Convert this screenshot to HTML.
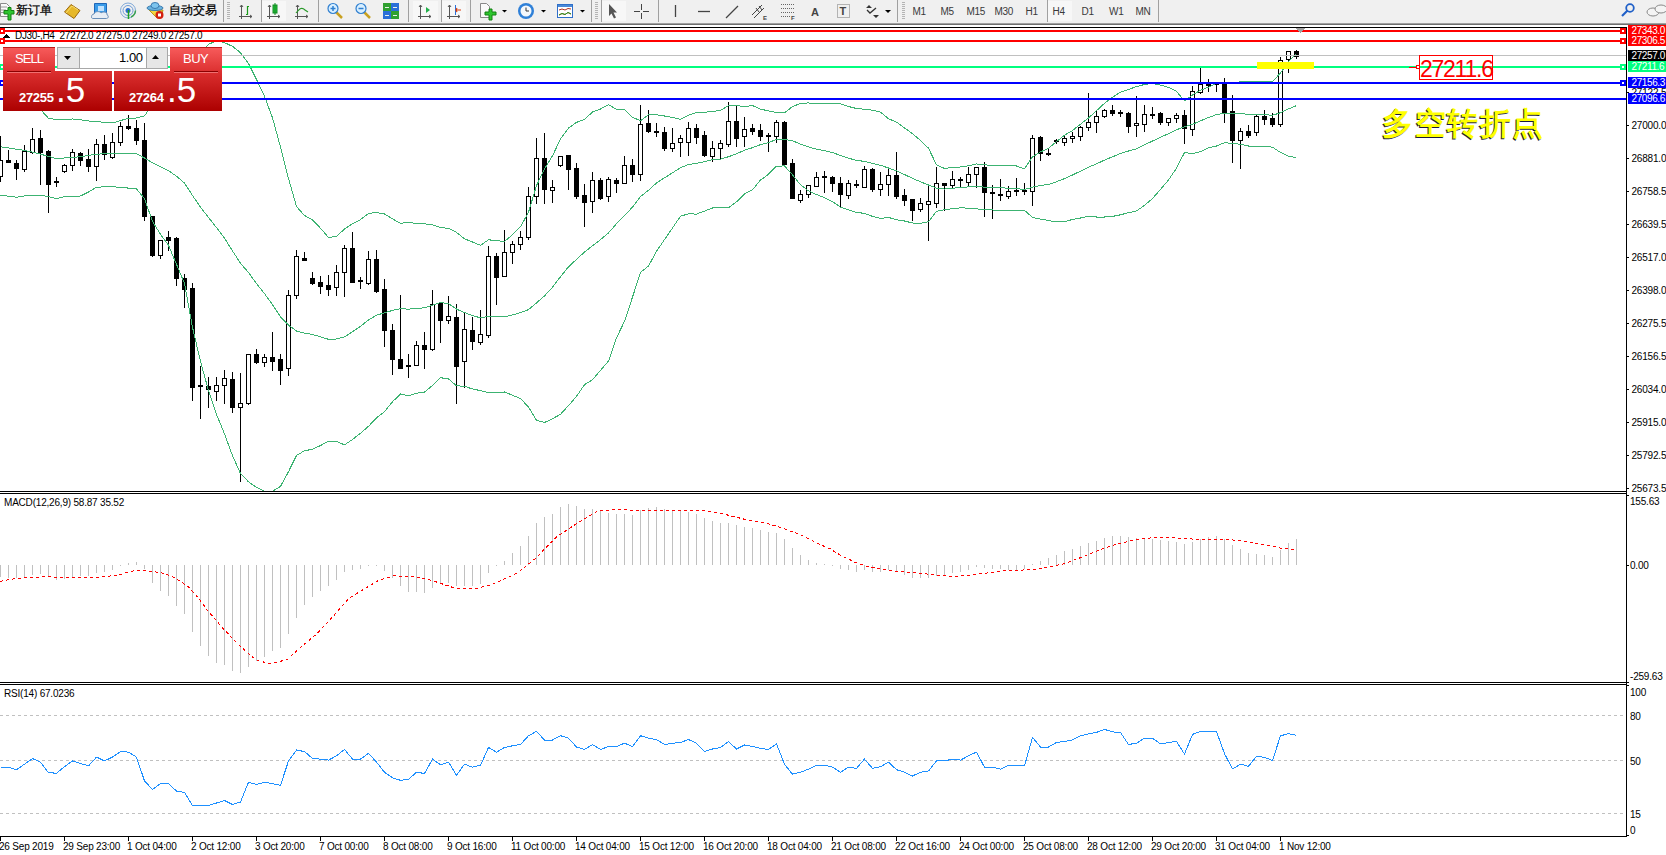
<!DOCTYPE html>
<html><head><meta charset="utf-8"><style>
html,body{margin:0;padding:0;}
body{width:1666px;height:855px;overflow:hidden;position:relative;background:#fff;font-family:'Liberation Sans', sans-serif;}
</style></head><body>

<div style="position:absolute;left:0;top:0;width:1666px;height:23px;background:#f0f0f0"></div>
<svg width="1666" height="23" style="position:absolute;left:0;top:0"><rect x="223" y="0" width="1" height="22" fill="#a0a0a0"/><rect x="261" y="0" width="1" height="22" fill="#a0a0a0"/><rect x="318" y="0" width="1" height="22" fill="#a0a0a0"/><rect x="408" y="0" width="1" height="22" fill="#a0a0a0"/><rect x="441" y="0" width="1" height="22" fill="#a0a0a0"/><rect x="470" y="0" width="1" height="22" fill="#a0a0a0"/><rect x="591" y="0" width="1" height="22" fill="#a0a0a0"/><rect x="601" y="0" width="1" height="22" fill="#a0a0a0"/><rect x="658" y="0" width="1" height="22" fill="#a0a0a0"/><rect x="897" y="0" width="1" height="22" fill="#a0a0a0"/><rect x="1047" y="0" width="1" height="22" fill="#a0a0a0"/><rect x="1158" y="0" width="1" height="22" fill="#a0a0a0"/><rect x="227" y="2" width="3" height="1" fill="#b4b4b4"/><rect x="227" y="4" width="3" height="1" fill="#b4b4b4"/><rect x="227" y="6" width="3" height="1" fill="#b4b4b4"/><rect x="227" y="8" width="3" height="1" fill="#b4b4b4"/><rect x="227" y="10" width="3" height="1" fill="#b4b4b4"/><rect x="227" y="12" width="3" height="1" fill="#b4b4b4"/><rect x="227" y="14" width="3" height="1" fill="#b4b4b4"/><rect x="227" y="16" width="3" height="1" fill="#b4b4b4"/><rect x="227" y="18" width="3" height="1" fill="#b4b4b4"/><rect x="595" y="2" width="3" height="1" fill="#b4b4b4"/><rect x="595" y="4" width="3" height="1" fill="#b4b4b4"/><rect x="595" y="6" width="3" height="1" fill="#b4b4b4"/><rect x="595" y="8" width="3" height="1" fill="#b4b4b4"/><rect x="595" y="10" width="3" height="1" fill="#b4b4b4"/><rect x="595" y="12" width="3" height="1" fill="#b4b4b4"/><rect x="595" y="14" width="3" height="1" fill="#b4b4b4"/><rect x="595" y="16" width="3" height="1" fill="#b4b4b4"/><rect x="595" y="18" width="3" height="1" fill="#b4b4b4"/><rect x="902" y="2" width="3" height="1" fill="#b4b4b4"/><rect x="902" y="4" width="3" height="1" fill="#b4b4b4"/><rect x="902" y="6" width="3" height="1" fill="#b4b4b4"/><rect x="902" y="8" width="3" height="1" fill="#b4b4b4"/><rect x="902" y="10" width="3" height="1" fill="#b4b4b4"/><rect x="902" y="12" width="3" height="1" fill="#b4b4b4"/><rect x="902" y="14" width="3" height="1" fill="#b4b4b4"/><rect x="902" y="16" width="3" height="1" fill="#b4b4b4"/><rect x="902" y="18" width="3" height="1" fill="#b4b4b4"/><rect x="262" y="1" width="24" height="20" fill="#f7f7f7"/><rect x="413" y="1" width="25" height="20" fill="#f7f7f7"/><rect x="442" y="1" width="24" height="20" fill="#f7f7f7"/><rect x="602" y="1" width="24" height="20" fill="#f7f7f7"/><rect x="1048" y="1" width="24" height="20" fill="#f7f7f7"/><path d="M0.5 3.5H6.5L9.5 6.5V16.5H0.5Z" fill="#fafafa" stroke="#8a8a8a"/><path d="M1 7H7M1 10H6M1 12.5H6" stroke="#9a9a9a"/><path d="M4 10.5H8V7.5H11V10.5H14V14H11V20H8V14H4Z" fill="#2ec52e" stroke="#138013"/><text x="16" y="14" style="font-family:'Liberation Sans', sans-serif;font-size:12px;fill:#000;stroke:#000;stroke-width:0.25">新订单</text><path d="M64.5 12L71 4.5L80 10.5L74 18.5Z" fill="#e6b82a" stroke="#9c6a10"/><path d="M66 13L72 6L78 10" fill="none" stroke="#f7dc70"/><path d="M94.5 3.5H106.5V13H94.5Z" fill="#3a9be8" stroke="#1f67b8"/><rect x="98" y="6" width="6" height="5" fill="#bfe2ff"/><path d="M92.5 18.5C91 18.5 91 14 94 14C95 11 100 11 101 13C103 11 108 12 107 15C109 15.5 108.5 18.5 106.5 18.5Z" fill="#e8eef5" stroke="#6a8fb8"/><circle cx="128" cy="10.5" r="7.5" fill="none" stroke="#7fa8d8" stroke-width="1"/><circle cx="128" cy="10.5" r="5" fill="none" stroke="#6b9ad6" stroke-width="1"/><circle cx="128" cy="10.5" r="2.5" fill="#2d6fcf"/><path d="M128.5 10V19" stroke="#20a020" stroke-width="1.5"/><path d="M131 17A7.5 7.5 0 0 0 135.5 10.5" fill="none" stroke="#3aa050" stroke-width="1.5"/><path d="M149 10L157 18H161L163 10Z" fill="#f2d640" stroke="#b89818"/><ellipse cx="155" cy="8" rx="8" ry="2.5" fill="#6ab4e0" stroke="#3a7ab0"/><ellipse cx="155" cy="5.5" rx="4" ry="3" fill="#7cc4ee" stroke="#3a7ab0"/><circle cx="159.5" cy="15" r="4" fill="#d42010"/><rect x="158" y="13.5" width="3" height="3" fill="#fff"/><text x="168.5" y="14" style="font-family:'Liberation Sans', sans-serif;font-size:12px;fill:#000;stroke:#000;stroke-width:0.25">自动交易</text><path d="M241.5 5V19M239 16.5H252" stroke="#555" stroke-width="1"/><path d="M240 7L241.5 5L243 7M250 15L252 16.5L250 18" fill="none" stroke="#555"/><path d="M246 14.5H247.5V6.5H249" fill="none" stroke="#1a9a1a" stroke-width="1.2"/><path d="M269.5 5V19M267 16.5H280" stroke="#555" stroke-width="1"/><path d="M268 7L269.5 5L271 7M278 15L280 16.5L278 18" fill="none" stroke="#555"/><rect x="273" y="5" width="4" height="8" fill="#22c43a" stroke="#138a22"/><path d="M275 3V15" stroke="#138a22"/><path d="M297.5 5V19M295 16.5H308" stroke="#555" stroke-width="1"/><path d="M296 7L297.5 5L299 7M306 15L308 16.5L306 18" fill="none" stroke="#555"/><path d="M296 13C300 8 302 7 305 10L308 12" fill="none" stroke="#2a9a2a" stroke-width="1.2"/><path d="M336 12L342 18" stroke="#c8a020" stroke-width="2.5"/><circle cx="333" cy="8.5" r="5" fill="#d8efff" stroke="#2f7fd0" stroke-width="1.2"/><path d="M330.5 8.5H335.5" stroke="#2f7fd0" stroke-width="1.5"/><path d="M333 6V11" stroke="#2f7fd0" stroke-width="1.5"/><path d="M364 12L370 18" stroke="#c8a020" stroke-width="2.5"/><circle cx="361" cy="8.5" r="5" fill="#d8efff" stroke="#2f7fd0" stroke-width="1.2"/><path d="M358.5 8.5H363.5" stroke="#2f7fd0" stroke-width="1.5"/><rect x="383" y="3" width="8" height="8" fill="#30a030"/><rect x="391" y="3" width="8" height="8" fill="#2a6fd8"/><rect x="383" y="11" width="8" height="8" fill="#2a6fd8"/><rect x="391" y="11" width="8" height="8" fill="#30a030"/><path d="M385 7.5H389M393 7.5H397M385 15.5H389M393 15.5H397" stroke="#e8f0e8" stroke-width="1"/><path d="M420.5 5V19M418 16.5H431" stroke="#555" stroke-width="1"/><path d="M419 7L420.5 5L422 7M429 15L431 16.5L429 18" fill="none" stroke="#555"/><path d="M426 7V13L430 10Z" fill="#22b04a"/><path d="M449.5 5V19M447 16.5H460" stroke="#555" stroke-width="1"/><path d="M448 7L449.5 5L451 7M458 15L460 16.5L458 18" fill="none" stroke="#555"/><path d="M455.5 5V15" stroke="#2a6fd8"/><path d="M456 10H461M457 8L456 10L457 12" fill="none" stroke="#d84010" stroke-width="1.2"/><path d="M480.5 3.5H486.5L489.5 6.5V17.5H480.5Z" fill="#fafafa" stroke="#888"/><path d="M485 12H489V9H492V12H496V15H492V20H489V15H485Z" fill="#2ec52e" stroke="#138013"/><path d="M502 10H507L504.5 12.5Z" fill="#000"/><path d="M541 10H546L543.5 12.5Z" fill="#000"/><path d="M580 10H585L582.5 12.5Z" fill="#000"/><circle cx="526" cy="11" r="8" fill="#2f80d8"/><circle cx="526" cy="11" r="5.5" fill="#f4f8fc"/><path d="M526 7.5V11H529" fill="none" stroke="#333"/><rect x="557.5" y="4.5" width="15" height="13" fill="#fff" stroke="#2f6fc8"/><rect x="558" y="5" width="14" height="2" fill="#4a8ad8"/><path d="M559 10L562 9L565 10L568 8.5L571 9M559 15L562 13.5L565 14.5L568 12.5L571 14" fill="none" stroke="#b03020"/><path d="M559 15L562 13.5L565 14.5L568 12.5L571 14" fill="none" stroke="#20a020"/><path d="M609 4V16L611.5 13.5L614 18.5L616 17.5L613.5 12.5H617Z" fill="#555"/><path d="M634 11.5H640M643 11.5H649M641.5 4V10M641.5 13V19" stroke="#444"/><path d="M675.5 5V17" stroke="#444" stroke-width="1.3"/><path d="M698 11.5H710" stroke="#444" stroke-width="1.3"/><path d="M726 18L738 6" stroke="#444" stroke-width="1.2"/><path d="M752 15L762 5M754 18L764 8M756 8L759 12M759 6L762 10" stroke="#444" stroke-width="1"/><text x="763" y="20" style="font-family:'Liberation Sans', sans-serif;font-size:6px;font-weight:bold;fill:#444">E</text><path d="M781 4.5H794M781 8.5H794M781 12.5H794M781 16.5H790" stroke="#666" stroke-dasharray="1 1"/><text x="791" y="20" style="font-family:'Liberation Sans', sans-serif;font-size:6px;font-weight:bold;fill:#444">F</text><text x="811" y="16" style="font-family:'Liberation Sans', sans-serif;font-size:11px;font-weight:bold;fill:#444">A</text><rect x="837.5" y="4.5" width="12" height="13" fill="none" stroke="#777" stroke-dasharray="1 1"/><text x="839.5" y="15" style="font-family:'Liberation Sans', sans-serif;font-size:11px;font-weight:bold;fill:#444">T</text><path d="M866 8L869 5L872 8ZM873 15L876 18L879 15Z" fill="#333"/><path d="M867 10L870 13L876 8" fill="none" stroke="#333" stroke-width="1.3"/><path d="M885 10H891L888 13Z" fill="#000"/><text x="912.5" y="15" style="font-family:'Liberation Sans', sans-serif;font-size:10px;letter-spacing:-0.3px;fill:#3a3a3a">M1</text><text x="940.5" y="15" style="font-family:'Liberation Sans', sans-serif;font-size:10px;letter-spacing:-0.3px;fill:#3a3a3a">M5</text><text x="966.5" y="15" style="font-family:'Liberation Sans', sans-serif;font-size:10px;letter-spacing:-0.3px;fill:#3a3a3a">M15</text><text x="994.5" y="15" style="font-family:'Liberation Sans', sans-serif;font-size:10px;letter-spacing:-0.3px;fill:#3a3a3a">M30</text><text x="1025.5" y="15" style="font-family:'Liberation Sans', sans-serif;font-size:10px;letter-spacing:-0.3px;fill:#3a3a3a">H1</text><text x="1052.5" y="15" style="font-family:'Liberation Sans', sans-serif;font-size:10px;letter-spacing:-0.3px;fill:#3a3a3a">H4</text><text x="1081.5" y="15" style="font-family:'Liberation Sans', sans-serif;font-size:10px;letter-spacing:-0.3px;fill:#3a3a3a">D1</text><text x="1109" y="15" style="font-family:'Liberation Sans', sans-serif;font-size:10px;letter-spacing:-0.3px;fill:#3a3a3a">W1</text><text x="1135.5" y="15" style="font-family:'Liberation Sans', sans-serif;font-size:10px;letter-spacing:-0.3px;fill:#3a3a3a">MN</text><circle cx="1630" cy="8" r="3.8" fill="none" stroke="#2060c8" stroke-width="1.8"/><path d="M1627.5 10.5L1622 16" stroke="#2060c8" stroke-width="2.2"/><ellipse cx="1653" cy="12" rx="6" ry="4" fill="#f4f4f4" stroke="#888"/><ellipse cx="1661" cy="9" rx="6" ry="4" fill="#f4f4f4" stroke="#888"/></svg>
<div style="position:absolute;left:0;top:23px;width:1666px;height:1px;background:#a0a0a0"></div>
<div style="position:absolute;left:0;top:24px;width:1666px;height:1px;background:#6e6e6e"></div>
<div style="position:absolute;left:0;top:25px;width:1666px;height:2px;background:#fff"></div>

<svg width="1666" height="855" style="position:absolute;left:0;top:0" shape-rendering="crispEdges"><path d="M0.5 136V160M0.5 177V182M8.5 150V163M16.5 160V180M24.5 145V151M24.5 170V172M32.5 128V139M32.5 153V154M40.5 130V185M48.5 150V213M56.5 177V187M54 181.5H59M54 182.5H59M64.5 164V165M64.5 172V173M72.5 149V152M72.5 166V171M80.5 152V166M88.5 149V172M96.5 139V144M96.5 167V181M104.5 135V160M112.5 133V142M112.5 158V159M120.5 122V126M120.5 143V146M128.5 115V130M136.5 120V145M144.5 123V221M152.5 216V257M160.5 256V259M168.5 231V251M176.5 237V286M184.5 274V308M192.5 283V401M200.5 366V419M198 385.5H203M198 386.5H203M208.5 377V408M216.5 377V385M216.5 392V401M224.5 370V378M224.5 386V404M232.5 372V413M240.5 373V403M240.5 408V482M248.5 404V405M256.5 349V364M264.5 354V357M264.5 363V367M272.5 332V371M280.5 354V385M288.5 290V295M288.5 369V376M296.5 250V256M296.5 296V299M304.5 252V261M312.5 272V285M320.5 276V294M328.5 275V296M336.5 265V272M336.5 288V296M344.5 245V248M344.5 273V297M352.5 232V283M360.5 277V289M358 280.5H363M358 281.5H363M368.5 251V259M368.5 284V285M376.5 250V293M384.5 279V347M392.5 324V375M400.5 295V369M408.5 354V378M406 365.5H411M406 366.5H411M416.5 341V345M424.5 332V369M432.5 290V304M432.5 350V351M440.5 303V343M448.5 296V316M448.5 321V324M456.5 304V404M464.5 313V329M464.5 362V388M472.5 317V350M480.5 310V334M480.5 343V345M488.5 246V256M488.5 336V338M496.5 253V305M504.5 230V252M512.5 241V244M512.5 253V264M520.5 231V237M520.5 245V250M528.5 187V196M528.5 238V240M536.5 138V158M536.5 197V204M544.5 133V204M552.5 180V187M552.5 191V203M560.5 166V167M568.5 155V190M576.5 163V199M584.5 184V227M592.5 172V180M592.5 202V213M600.5 178V200M608.5 177V179M608.5 197V202M616.5 178V193M624.5 156V165M632.5 159V182M640.5 105V124M640.5 175V181M648.5 110V133M656.5 123V137M654 131.5H659M654 132.5H659M664.5 127V151M672.5 128V143M672.5 149V152M680.5 135V138M680.5 143V157M688.5 122V128M688.5 143V156M696.5 124V144M704.5 131V157M712.5 141V148M712.5 157V162M720.5 140V143M720.5 149V160M728.5 102V121M728.5 145V147M736.5 106V147M744.5 117V129M744.5 137V147M752.5 124V135M760.5 124V141M768.5 133V152M766 135.5H771M766 136.5H771M776.5 120V122M776.5 137V143M784.5 121V165M792.5 159V199M800.5 190V194M800.5 201V203M808.5 195V198M816.5 172V177M824.5 171V193M822 176.5H827M822 177.5H827M832.5 176V192M840.5 177V207M848.5 180V183M848.5 196V199M856.5 180V188M854 184.5H859M854 185.5H859M864.5 166V169M872.5 168V192M880.5 172V184M880.5 190V196M888.5 168V175M888.5 185V196M896.5 152V199M904.5 189V206M912.5 199V221M920.5 198V203M920.5 210V212M928.5 186V201M928.5 205V241M936.5 167V183M936.5 204V208M944.5 183V211M952.5 171V179M952.5 186V188M960.5 177V187M958 179.5H963M958 180.5H963M968.5 167V174M968.5 183V187M976.5 175V188M984.5 162V217M992.5 185V219M990 192.5H995M990 193.5H995M1000.5 179V201M1008.5 186V191M1008.5 197V199M1016.5 178V196M1014 190.5H1019M1014 191.5H1019M1024.5 183V195M1022 190.5H1027M1022 191.5H1027M1032.5 135V138M1032.5 192V206M1040.5 136V161M1048.5 149V156M1046 153.5H1051M1046 154.5H1051M1056.5 139V144M1054 140.5H1059M1054 141.5H1059M1064.5 135V138M1064.5 143V146M1072.5 132V136M1072.5 139V143M1080.5 126V127M1080.5 137V141M1088.5 93V122M1088.5 128V131M1096.5 110V116M1096.5 123V133M1104.5 109V110M1104.5 117V118M1112.5 105V116M1120.5 110V117M1118 112.5H1123M1118 113.5H1123M1128.5 112V133M1136.5 96V123M1136.5 126V137M1144.5 105V114M1144.5 125V132M1152.5 107V119M1150 114.5H1155M1150 115.5H1155M1160.5 112V125M1168.5 123V126M1176.5 113V115M1176.5 119V123M1184.5 110V144M1192.5 86V91M1192.5 130V136M1200.5 68V84M1200.5 93V94M1208.5 79V92M1216.5 83V92M1214 83.5H1219M1214 84.5H1219M1224.5 78V123M1232.5 95V163M1240.5 128V131M1240.5 141V169M1248.5 125V138M1256.5 114V116M1256.5 133V136M1264.5 110V125M1272.5 113V127M1280.5 57V60M1280.5 125V127M1288.5 60V73M1296.5 50V59" stroke="#000" stroke-width="1" fill="none"/><rect x="-1.5" y="160.5" width="4" height="16" fill="none" stroke="#000" stroke-width="1"/><rect x="6" y="160" width="5" height="3" fill="#000"/><rect x="14" y="163" width="5" height="6" fill="#000"/><rect x="22.5" y="151.5" width="4" height="18" fill="none" stroke="#000" stroke-width="1"/><rect x="30.5" y="139.5" width="4" height="13" fill="none" stroke="#000" stroke-width="1"/><rect x="38" y="138" width="5" height="15" fill="#000"/><rect x="46" y="151" width="5" height="34" fill="#000"/><rect x="62.5" y="165.5" width="4" height="6" fill="none" stroke="#000" stroke-width="1"/><rect x="70.5" y="152.5" width="4" height="13" fill="none" stroke="#000" stroke-width="1"/><rect x="78" y="153" width="5" height="8" fill="#000"/><rect x="86" y="159" width="5" height="8" fill="#000"/><rect x="94.5" y="144.5" width="4" height="22" fill="none" stroke="#000" stroke-width="1"/><rect x="102" y="144" width="5" height="11" fill="#000"/><rect x="110.5" y="142.5" width="4" height="15" fill="none" stroke="#000" stroke-width="1"/><rect x="118.5" y="126.5" width="4" height="16" fill="none" stroke="#000" stroke-width="1"/><rect x="126" y="126" width="5" height="3" fill="#000"/><rect x="134" y="128" width="5" height="13" fill="#000"/><rect x="142" y="140" width="5" height="77" fill="#000"/><rect x="150" y="216" width="5" height="40" fill="#000"/><rect x="158.5" y="240.5" width="4" height="15" fill="none" stroke="#000" stroke-width="1"/><rect x="166" y="237" width="5" height="4" fill="#000"/><rect x="174" y="238" width="5" height="41" fill="#000"/><rect x="182" y="278" width="5" height="12" fill="#000"/><rect x="190" y="288" width="5" height="100" fill="#000"/><rect x="206" y="386" width="5" height="4" fill="#000"/><rect x="214.5" y="385.5" width="4" height="6" fill="none" stroke="#000" stroke-width="1"/><rect x="222.5" y="378.5" width="4" height="7" fill="none" stroke="#000" stroke-width="1"/><rect x="230" y="379" width="5" height="29" fill="#000"/><rect x="238.5" y="403.5" width="4" height="4" fill="none" stroke="#000" stroke-width="1"/><rect x="246.5" y="354.5" width="4" height="49" fill="none" stroke="#000" stroke-width="1"/><rect x="254" y="354" width="5" height="9" fill="#000"/><rect x="262.5" y="357.5" width="4" height="5" fill="none" stroke="#000" stroke-width="1"/><rect x="270" y="357" width="5" height="5" fill="#000"/><rect x="278" y="359" width="5" height="12" fill="#000"/><rect x="286.5" y="295.5" width="4" height="73" fill="none" stroke="#000" stroke-width="1"/><rect x="294.5" y="256.5" width="4" height="39" fill="none" stroke="#000" stroke-width="1"/><rect x="302" y="258" width="5" height="3" fill="#000"/><rect x="310" y="278" width="5" height="6" fill="#000"/><rect x="318" y="282" width="5" height="5" fill="#000"/><rect x="326" y="285" width="5" height="5" fill="#000"/><rect x="334.5" y="272.5" width="4" height="15" fill="none" stroke="#000" stroke-width="1"/><rect x="342.5" y="248.5" width="4" height="24" fill="none" stroke="#000" stroke-width="1"/><rect x="350" y="248" width="5" height="35" fill="#000"/><rect x="366.5" y="259.5" width="4" height="24" fill="none" stroke="#000" stroke-width="1"/><rect x="374" y="259" width="5" height="33" fill="#000"/><rect x="382" y="289" width="5" height="42" fill="#000"/><rect x="390" y="330" width="5" height="30" fill="#000"/><rect x="398" y="359" width="5" height="10" fill="#000"/><rect x="414.5" y="345.5" width="4" height="20" fill="none" stroke="#000" stroke-width="1"/><rect x="422" y="345" width="5" height="5" fill="#000"/><rect x="430.5" y="304.5" width="4" height="45" fill="none" stroke="#000" stroke-width="1"/><rect x="438" y="303" width="5" height="18" fill="#000"/><rect x="446.5" y="316.5" width="4" height="4" fill="none" stroke="#000" stroke-width="1"/><rect x="454" y="317" width="5" height="50" fill="#000"/><rect x="462.5" y="329.5" width="4" height="32" fill="none" stroke="#000" stroke-width="1"/><rect x="470" y="330" width="5" height="12" fill="#000"/><rect x="478.5" y="334.5" width="4" height="8" fill="none" stroke="#000" stroke-width="1"/><rect x="486.5" y="256.5" width="4" height="79" fill="none" stroke="#000" stroke-width="1"/><rect x="494" y="256" width="5" height="22" fill="#000"/><rect x="502.5" y="252.5" width="4" height="24" fill="none" stroke="#000" stroke-width="1"/><rect x="510.5" y="244.5" width="4" height="8" fill="none" stroke="#000" stroke-width="1"/><rect x="518.5" y="237.5" width="4" height="7" fill="none" stroke="#000" stroke-width="1"/><rect x="526.5" y="196.5" width="4" height="41" fill="none" stroke="#000" stroke-width="1"/><rect x="534.5" y="158.5" width="4" height="38" fill="none" stroke="#000" stroke-width="1"/><rect x="542" y="158" width="5" height="32" fill="#000"/><rect x="550.5" y="187.5" width="4" height="3" fill="none" stroke="#000" stroke-width="1"/><rect x="558.5" y="156.5" width="4" height="9" fill="none" stroke="#000" stroke-width="1"/><rect x="566" y="155" width="5" height="15" fill="#000"/><rect x="574" y="168" width="5" height="29" fill="#000"/><rect x="582" y="195" width="5" height="8" fill="#000"/><rect x="590.5" y="180.5" width="4" height="21" fill="none" stroke="#000" stroke-width="1"/><rect x="598" y="180" width="5" height="19" fill="#000"/><rect x="606.5" y="179.5" width="4" height="17" fill="none" stroke="#000" stroke-width="1"/><rect x="614" y="180" width="5" height="4" fill="#000"/><rect x="622.5" y="165.5" width="4" height="18" fill="none" stroke="#000" stroke-width="1"/><rect x="630" y="165" width="5" height="10" fill="#000"/><rect x="638.5" y="124.5" width="4" height="50" fill="none" stroke="#000" stroke-width="1"/><rect x="646" y="123" width="5" height="9" fill="#000"/><rect x="662" y="132" width="5" height="17" fill="#000"/><rect x="670.5" y="143.5" width="4" height="5" fill="none" stroke="#000" stroke-width="1"/><rect x="678.5" y="138.5" width="4" height="4" fill="none" stroke="#000" stroke-width="1"/><rect x="686.5" y="128.5" width="4" height="14" fill="none" stroke="#000" stroke-width="1"/><rect x="694" y="128" width="5" height="10" fill="#000"/><rect x="702" y="135" width="5" height="21" fill="#000"/><rect x="710.5" y="148.5" width="4" height="8" fill="none" stroke="#000" stroke-width="1"/><rect x="718.5" y="143.5" width="4" height="5" fill="none" stroke="#000" stroke-width="1"/><rect x="726.5" y="121.5" width="4" height="23" fill="none" stroke="#000" stroke-width="1"/><rect x="734" y="121" width="5" height="18" fill="#000"/><rect x="742.5" y="129.5" width="4" height="7" fill="none" stroke="#000" stroke-width="1"/><rect x="750" y="128" width="5" height="4" fill="#000"/><rect x="758" y="130" width="5" height="7" fill="#000"/><rect x="774.5" y="122.5" width="4" height="14" fill="none" stroke="#000" stroke-width="1"/><rect x="782" y="122" width="5" height="43" fill="#000"/><rect x="790" y="163" width="5" height="36" fill="#000"/><rect x="798.5" y="194.5" width="4" height="6" fill="none" stroke="#000" stroke-width="1"/><rect x="806.5" y="185.5" width="4" height="9" fill="none" stroke="#000" stroke-width="1"/><rect x="814.5" y="177.5" width="4" height="9" fill="none" stroke="#000" stroke-width="1"/><rect x="830" y="177" width="5" height="7" fill="#000"/><rect x="838" y="183" width="5" height="12" fill="#000"/><rect x="846.5" y="183.5" width="4" height="12" fill="none" stroke="#000" stroke-width="1"/><rect x="862.5" y="169.5" width="4" height="18" fill="none" stroke="#000" stroke-width="1"/><rect x="870" y="169" width="5" height="21" fill="#000"/><rect x="878.5" y="184.5" width="4" height="5" fill="none" stroke="#000" stroke-width="1"/><rect x="886.5" y="175.5" width="4" height="9" fill="none" stroke="#000" stroke-width="1"/><rect x="894" y="175" width="5" height="22" fill="#000"/><rect x="902" y="195" width="5" height="6" fill="#000"/><rect x="910" y="199" width="5" height="12" fill="#000"/><rect x="918.5" y="203.5" width="4" height="6" fill="none" stroke="#000" stroke-width="1"/><rect x="926.5" y="201.5" width="4" height="3" fill="none" stroke="#000" stroke-width="1"/><rect x="934.5" y="183.5" width="4" height="20" fill="none" stroke="#000" stroke-width="1"/><rect x="942" y="183" width="5" height="3" fill="#000"/><rect x="950.5" y="179.5" width="4" height="6" fill="none" stroke="#000" stroke-width="1"/><rect x="966.5" y="174.5" width="4" height="8" fill="none" stroke="#000" stroke-width="1"/><rect x="974.5" y="167.5" width="4" height="7" fill="none" stroke="#000" stroke-width="1"/><rect x="982" y="167" width="5" height="26" fill="#000"/><rect x="998" y="194" width="5" height="2" fill="#000"/><rect x="1006.5" y="191.5" width="4" height="5" fill="none" stroke="#000" stroke-width="1"/><rect x="1030.5" y="138.5" width="4" height="53" fill="none" stroke="#000" stroke-width="1"/><rect x="1038" y="137" width="5" height="17" fill="#000"/><rect x="1062.5" y="138.5" width="4" height="4" fill="none" stroke="#000" stroke-width="1"/><rect x="1070.5" y="136.5" width="4" height="2" fill="none" stroke="#000" stroke-width="1"/><rect x="1078.5" y="127.5" width="4" height="9" fill="none" stroke="#000" stroke-width="1"/><rect x="1086.5" y="122.5" width="4" height="5" fill="none" stroke="#000" stroke-width="1"/><rect x="1094.5" y="116.5" width="4" height="6" fill="none" stroke="#000" stroke-width="1"/><rect x="1102.5" y="110.5" width="4" height="6" fill="none" stroke="#000" stroke-width="1"/><rect x="1110" y="110" width="5" height="4" fill="#000"/><rect x="1126" y="113" width="5" height="14" fill="#000"/><rect x="1134.5" y="123.5" width="4" height="2" fill="none" stroke="#000" stroke-width="1"/><rect x="1142.5" y="114.5" width="4" height="10" fill="none" stroke="#000" stroke-width="1"/><rect x="1158" y="113" width="5" height="10" fill="#000"/><rect x="1166.5" y="118.5" width="4" height="4" fill="none" stroke="#000" stroke-width="1"/><rect x="1174.5" y="115.5" width="4" height="3" fill="none" stroke="#000" stroke-width="1"/><rect x="1182" y="115" width="5" height="14" fill="#000"/><rect x="1190.5" y="91.5" width="4" height="38" fill="none" stroke="#000" stroke-width="1"/><rect x="1198.5" y="84.5" width="4" height="8" fill="none" stroke="#000" stroke-width="1"/><rect x="1206" y="84" width="5" height="2" fill="#000"/><rect x="1222" y="84" width="5" height="29" fill="#000"/><rect x="1230" y="111" width="5" height="30" fill="#000"/><rect x="1238.5" y="131.5" width="4" height="9" fill="none" stroke="#000" stroke-width="1"/><rect x="1246" y="131" width="5" height="5" fill="#000"/><rect x="1254.5" y="116.5" width="4" height="16" fill="none" stroke="#000" stroke-width="1"/><rect x="1262" y="116" width="5" height="4" fill="#000"/><rect x="1270" y="118" width="5" height="7" fill="#000"/><rect x="1278.5" y="60.5" width="4" height="64" fill="none" stroke="#000" stroke-width="1"/><rect x="1286.5" y="51.5" width="4" height="8" fill="none" stroke="#000" stroke-width="1"/><rect x="1294" y="51" width="5" height="6" fill="#000"/><polyline points="0.5,98.5 8.5,98.9 16.5,99.4 24.5,99.8 32.5,100.3 40.5,109.4 48.5,118.3 56.5,119.5 64.5,119.9 72.5,119.0 80.5,119.7 88.5,121.0 96.5,121.6 104.5,122.3 112.5,123.0 120.5,120.6 128.5,118.3 136.5,118.0 144.5,115.9 152.5,104.3 160.5,99.3 168.5,96.1 176.5,88.0 184.5,82.9 192.5,63.5 200.5,52.9 208.5,44.4 216.5,40.7 224.5,42.7 232.5,46.3 240.5,52.7 248.5,63.4 256.5,79.5 264.5,96.2 272.5,117.9 280.5,147.1 288.5,178.6 296.5,206.6 304.5,215.5 312.5,219.9 320.5,228.2 328.5,237.5 336.5,236.4 344.5,229.0 352.5,223.8 360.5,219.6 368.5,213.4 376.5,212.5 384.5,214.0 392.5,218.9 400.5,223.3 408.5,222.4 416.5,223.4 424.5,223.9 432.5,224.7 440.5,227.5 448.5,228.4 456.5,232.4 464.5,238.8 472.5,242.0 480.5,245.3 488.5,239.8 496.5,240.6 504.5,241.5 512.5,234.7 520.5,226.8 528.5,212.2 536.5,185.5 544.5,169.2 552.5,155.8 560.5,139.0 568.5,128.1 576.5,122.4 584.5,119.4 592.5,112.0 600.5,109.0 608.5,104.6 616.5,109.5 624.5,109.7 632.5,117.2 640.5,120.8 648.5,114.7 656.5,114.8 664.5,116.0 672.5,117.5 680.5,119.4 688.5,115.1 696.5,112.6 704.5,112.2 712.5,111.5 720.5,110.4 728.5,105.7 736.5,105.7 744.5,106.5 752.5,105.6 760.5,109.2 768.5,110.8 776.5,112.7 784.5,112.9 792.5,106.5 800.5,103.5 808.5,102.9 816.5,103.8 824.5,103.6 832.5,103.7 840.5,103.7 848.5,106.5 856.5,108.5 864.5,109.2 872.5,110.2 880.5,112.2 888.5,118.7 896.5,122.1 904.5,127.9 912.5,133.8 920.5,140.3 928.5,148.2 936.5,164.8 944.5,168.4 952.5,167.6 960.5,167.0 968.5,165.7 976.5,163.9 984.5,164.9 992.5,165.3 1000.5,165.3 1008.5,165.7 1016.5,166.0 1024.5,168.8 1032.5,156.8 1040.5,151.9 1048.5,148.4 1056.5,141.6 1064.5,135.3 1072.5,130.5 1080.5,124.2 1088.5,118.0 1096.5,110.7 1104.5,103.3 1112.5,97.2 1120.5,92.1 1128.5,89.4 1136.5,86.6 1144.5,84.5 1152.5,83.5 1160.5,85.2 1168.5,87.3 1176.5,91.4 1184.5,100.9 1192.5,95.1 1200.5,90.2 1208.5,87.2 1216.5,83.2 1224.5,83.9 1232.5,83.5 1240.5,81.8 1248.5,81.2 1256.5,81.2 1264.5,81.6 1272.5,81.8 1280.5,72.9 1288.5,61.6 1296.5,53.6" fill="none" stroke="#3cb371" stroke-width="1"/><polyline points="0.5,146.8 8.5,148.0 16.5,149.2 24.5,150.4 32.5,152.1 40.5,154.2 48.5,156.4 56.5,158.7 64.5,158.0 72.5,157.4 80.5,156.7 88.5,155.4 96.5,154.2 104.5,153.8 112.5,153.8 120.5,153.8 128.5,153.8 136.5,153.8 144.5,158.0 152.5,162.9 160.5,166.8 168.5,170.7 176.5,176.2 184.5,183.1 192.5,195.5 200.5,207.2 208.5,217.5 216.5,227.6 224.5,238.2 232.5,251.0 240.5,263.2 248.5,272.6 256.5,283.5 264.5,293.6 272.5,304.6 280.5,316.8 288.5,325.2 296.5,331.0 304.5,333.1 312.5,334.5 320.5,336.8 328.5,339.3 336.5,339.0 344.5,336.9 352.5,331.6 360.5,326.4 368.5,319.9 376.5,315.2 384.5,312.8 392.5,310.4 400.5,308.6 408.5,309.2 416.5,308.3 424.5,307.9 432.5,305.1 440.5,302.6 448.5,303.6 456.5,309.1 464.5,312.6 472.5,315.5 480.5,317.9 488.5,316.3 496.5,316.6 504.5,316.8 512.5,314.9 520.5,312.7 528.5,309.6 536.5,302.9 544.5,295.9 552.5,287.3 560.5,276.7 568.5,266.8 576.5,259.4 584.5,252.0 592.5,245.8 600.5,239.7 608.5,232.9 616.5,223.7 624.5,215.5 632.5,207.1 640.5,196.6 648.5,190.3 656.5,183.0 664.5,177.8 672.5,172.8 680.5,167.8 688.5,164.4 696.5,163.4 704.5,161.7 712.5,159.7 720.5,159.1 728.5,156.7 736.5,153.8 744.5,150.2 752.5,147.7 760.5,144.6 768.5,142.5 776.5,139.5 784.5,139.4 792.5,140.7 800.5,144.2 808.5,146.9 816.5,149.2 824.5,150.6 832.5,152.6 840.5,155.4 848.5,158.1 856.5,160.5 864.5,161.3 872.5,163.3 880.5,165.3 888.5,168.0 896.5,170.9 904.5,174.5 912.5,178.4 920.5,181.8 928.5,185.0 936.5,188.1 944.5,189.1 952.5,188.2 960.5,187.5 968.5,186.9 976.5,186.4 984.5,187.2 992.5,187.7 1000.5,187.8 1008.5,188.2 1016.5,188.5 1024.5,189.6 1032.5,187.1 1040.5,185.5 1048.5,184.5 1056.5,181.7 1064.5,178.6 1072.5,175.0 1080.5,171.1 1088.5,167.2 1096.5,163.9 1104.5,160.1 1112.5,156.8 1120.5,153.5 1128.5,151.0 1136.5,148.8 1144.5,144.9 1152.5,141.0 1160.5,137.3 1168.5,133.7 1176.5,129.8 1184.5,126.7 1192.5,124.3 1200.5,120.9 1208.5,117.5 1216.5,114.6 1224.5,113.3 1232.5,113.5 1240.5,113.7 1248.5,114.3 1256.5,114.3 1264.5,114.7 1272.5,115.3 1280.5,112.7 1288.5,108.9 1296.5,105.6" fill="none" stroke="#3cb371" stroke-width="1"/><polyline points="0.5,195.2 8.5,196.2 16.5,197.2 24.5,195.9 32.5,195.2 40.5,195.2 48.5,196.7 56.5,198.7 64.5,196.7 72.5,196.3 80.5,196.0 88.5,192.0 96.5,187.3 104.5,186.8 112.5,186.8 120.5,187.3 128.5,188.1 136.5,188.9 144.5,198.7 152.5,221.4 160.5,234.3 168.5,245.3 176.5,264.4 184.5,283.3 192.5,327.4 200.5,361.5 208.5,390.5 216.5,414.5 224.5,433.8 232.5,455.7 240.5,473.7 248.5,481.8 256.5,487.5 264.5,491.1 272.5,491.3 280.5,486.4 288.5,471.7 296.5,455.4 304.5,450.8 312.5,449.2 320.5,445.5 328.5,441.1 336.5,441.5 344.5,444.8 352.5,439.5 360.5,433.2 368.5,426.3 376.5,417.9 384.5,411.6 392.5,401.8 400.5,393.9 408.5,395.9 416.5,393.3 424.5,392.0 432.5,385.4 440.5,377.7 448.5,378.9 456.5,385.8 464.5,386.3 472.5,389.0 480.5,390.6 488.5,392.8 496.5,392.5 504.5,392.0 512.5,395.2 520.5,398.7 528.5,406.9 536.5,420.4 544.5,422.5 552.5,418.7 560.5,414.3 568.5,405.6 576.5,396.4 584.5,384.7 592.5,379.7 600.5,370.4 608.5,361.1 616.5,337.9 624.5,321.3 632.5,297.1 640.5,272.4 648.5,266.0 656.5,251.3 664.5,239.6 672.5,228.0 680.5,216.2 688.5,213.8 696.5,214.1 704.5,211.1 712.5,208.0 720.5,207.8 728.5,207.8 736.5,201.9 744.5,193.9 752.5,189.8 760.5,180.1 768.5,174.2 776.5,166.2 784.5,165.9 792.5,174.8 800.5,184.8 808.5,190.9 816.5,194.6 824.5,197.6 832.5,201.6 840.5,207.1 848.5,209.8 856.5,212.5 864.5,213.3 872.5,216.4 880.5,218.5 888.5,217.4 896.5,219.8 904.5,221.0 912.5,223.0 920.5,223.2 928.5,221.8 936.5,211.3 944.5,209.8 952.5,208.7 960.5,207.9 968.5,208.1 976.5,208.9 984.5,209.5 992.5,210.0 1000.5,210.2 1008.5,210.6 1016.5,210.9 1024.5,210.4 1032.5,217.4 1040.5,219.1 1048.5,220.5 1056.5,221.9 1064.5,221.9 1072.5,219.4 1080.5,218.0 1088.5,216.3 1096.5,217.0 1104.5,217.0 1112.5,216.4 1120.5,214.8 1128.5,212.7 1136.5,211.0 1144.5,205.3 1152.5,198.5 1160.5,189.4 1168.5,180.0 1176.5,168.2 1184.5,152.5 1192.5,153.6 1200.5,151.6 1208.5,147.8 1216.5,146.0 1224.5,142.7 1232.5,143.5 1240.5,144.2 1248.5,146.0 1256.5,146.0 1264.5,146.4 1272.5,147.2 1280.5,152.4 1288.5,156.2 1296.5,157.5" fill="none" stroke="#3cb371" stroke-width="1"/><rect x="1257" y="62" width="57" height="7" fill="#ffff00"/><rect x="0" y="30" width="1626" height="2" fill="#ff0000"/><rect x="0" y="40" width="1626" height="2" fill="#ff0000"/><rect x="0" y="55" width="1626" height="1" fill="#c0c0c0"/><rect x="0" y="66" width="1257" height="2" fill="#00ff7f"/><rect x="1314" y="66" width="312" height="2" fill="#00ff7f"/><rect x="0" y="82" width="1626" height="2" fill="#0000ff"/><rect x="0" y="98" width="1626" height="2" fill="#0000ff"/><rect x="1620.5" y="28.5" width="4" height="4" fill="#fff" stroke="#ff0000" stroke-width="2"/><rect x="-0.5" y="28.5" width="4" height="4" fill="#fff" stroke="#ff0000" stroke-width="2"/><rect x="1620.5" y="38.5" width="4" height="4" fill="#fff" stroke="#ff0000" stroke-width="2"/><rect x="-0.5" y="38.5" width="4" height="4" fill="#fff" stroke="#ff0000" stroke-width="2"/><rect x="1620.5" y="64.5" width="4" height="4" fill="#fff" stroke="#00ff7f" stroke-width="2"/><rect x="-0.5" y="64.5" width="4" height="4" fill="#fff" stroke="#00ff7f" stroke-width="2"/><rect x="1620.5" y="80.5" width="4" height="4" fill="#fff" stroke="#0000ff" stroke-width="2"/><rect x="-0.5" y="80.5" width="4" height="4" fill="#fff" stroke="#0000ff" stroke-width="2"/><path d="M1295 28H1305L1300 33Z" fill="#a0a0a0"/><rect x="0" y="27" width="1627" height="1" fill="#000"/><rect x="1626" y="27" width="1" height="810" fill="#000"/><rect x="0" y="491" width="1627" height="1" fill="#000"/><rect x="0" y="493" width="1627" height="1" fill="#000"/><rect x="0" y="682" width="1627" height="1" fill="#000"/><rect x="0" y="684" width="1627" height="1" fill="#000"/><rect x="0" y="836" width="1627" height="1" fill="#000"/><path d="M0.5 565V577M8.5 565V578M16.5 565V578M24.5 565V578M32.5 565V575M40.5 565V574M48.5 565V576M56.5 565V580M64.5 565V579M72.5 565V578M80.5 565V576M88.5 565V576M96.5 565V573M104.5 565V572M112.5 565V570M120.5 565V566M128.5 563V565M136.5 562V565M144.5 565V569M152.5 565V583M160.5 565V591M168.5 565V596M176.5 565V606M184.5 565V614M192.5 565V632M200.5 565V646M208.5 565V656M216.5 565V663M224.5 565V665M232.5 565V671M240.5 565V673M248.5 565V667M256.5 565V661M264.5 565V657M272.5 565V651M280.5 565V648M288.5 565V634M296.5 565V618M304.5 565V605M312.5 565V597M320.5 565V591M328.5 565V586M336.5 565V580M344.5 565V572M352.5 565V570M360.5 565V569M368.5 565V566M376.5 565V566M384.5 565V571M392.5 565V578M400.5 565V586M408.5 565V592M416.5 565V592M424.5 565V593M432.5 565V588M440.5 565V584M448.5 565V583M456.5 565V586M464.5 565V586M472.5 565V586M480.5 565V584M488.5 565V573M496.5 565V566M504.5 561V565M512.5 553V565M520.5 546V565M528.5 536V565M536.5 523V565M544.5 517V565M552.5 514V565M560.5 507V565M568.5 504V565M576.5 506V565M584.5 509V565M592.5 509V565M600.5 511V565M608.5 513V565M616.5 514V565M624.5 514V565M632.5 515V565M640.5 510V565M648.5 508V565M656.5 507V565M664.5 509V565M672.5 511V565M680.5 511V565M688.5 512V565M696.5 514V565M704.5 518V565M712.5 521V565M720.5 523V565M728.5 523V565M736.5 525V565M744.5 527V565M752.5 528V565M760.5 530V565M768.5 532V565M776.5 533V565M784.5 539V565M792.5 548V565M800.5 555V565M808.5 560V565M816.5 563V565M824.5 564V565M832.5 565V566M840.5 565V569M848.5 565V570M856.5 565V572M864.5 565V570M872.5 565V572M880.5 565V572M888.5 565V570M896.5 565V572M904.5 565V575M912.5 565V578M920.5 565V578M928.5 565V578M936.5 565V576M944.5 565V575M952.5 565V573M960.5 565V572M968.5 565V570M976.5 565V567M984.5 565V568M992.5 565V569M1000.5 565V569M1008.5 565V570M1016.5 565V570M1024.5 565V569M1032.5 564V565M1040.5 561V565M1048.5 558V565M1056.5 555V565M1064.5 551V565M1072.5 549V565M1080.5 546V565M1088.5 543V565M1096.5 541V565M1104.5 538V565M1112.5 536V565M1120.5 536V565M1128.5 537V565M1136.5 538V565M1144.5 538V565M1152.5 539V565M1160.5 540V565M1168.5 541V565M1176.5 542V565M1184.5 544V565M1192.5 542V565M1200.5 539V565M1208.5 537V565M1216.5 536V565M1224.5 539V565M1232.5 545V565M1240.5 549V565M1248.5 553V565M1256.5 554V565M1264.5 555V565M1272.5 557V565M1280.5 550V565M1288.5 543V565M1296.5 539V565" stroke="#c0c0c0" stroke-width="1" fill="none"/><polyline points="0.0,581.3 14.0,578.8 31.0,577.4 48.0,576.6 57.0,577.4 101.0,577.2 120.0,574.7 126.0,572.5 136.0,570.3 152.0,571.3 164.0,573.4 176.0,578.4 189.0,587.3 199.0,598.6 207.0,609.8 224.0,629.5 241.0,647.0 256.5,660.4 270.5,663.6 287.0,659.7 301.0,647.0 317.0,633.7 334.0,615.4 349.0,598.2 378.0,580.7 394.0,575.7 416.0,577.0 431.0,580.2 454.0,587.8 474.0,589.1 492.0,584.5 517.0,573.2 534.5,559.3 557.0,536.6 580.0,521.5 597.5,510.9 617.5,509.4 643.0,510.7 668.0,510.2 706.0,510.7 723.5,514.0 743.5,519.0 769.0,524.0 781.5,527.8 799.0,534.1 819.0,544.2 830.0,548.7 836.0,552.7 842.5,556.2 848.8,559.2 854.5,562.1 860.8,564.3 865.8,565.9 872.0,567.4 884.7,569.5 897.3,571.3 910.0,572.5 922.5,573.5 937.7,575.4 954.0,576.4 966.7,575.4 979.3,573.7 992.0,572.5 1004.5,570.6 1017.0,570.3 1029.7,569.7 1038.0,568.8 1052.4,566.4 1065.0,563.5 1076.3,559.3 1089.0,554.3 1101.5,549.2 1113.0,545.2 1124.2,542.4 1136.8,539.5 1147.0,538.3 1155.8,537.3 1170.9,537.3 1181.0,538.5 1200.0,539.4 1225.0,539.4 1237.8,540.4 1250.4,542.3 1263.0,544.5 1274.4,546.7 1282.0,548.6 1294.0,549.2" fill="none" stroke="#ff0000" stroke-width="1" stroke-dasharray="3 3"/><line x1="0" y1="715.5" x2="1626" y2="715.5" stroke="#c0c0c0" stroke-width="1" stroke-dasharray="3 3"/><line x1="0" y1="760.5" x2="1626" y2="760.5" stroke="#c0c0c0" stroke-width="1" stroke-dasharray="3 3"/><line x1="0" y1="813.5" x2="1626" y2="813.5" stroke="#c0c0c0" stroke-width="1" stroke-dasharray="3 3"/><polyline points="0.5,767.2 8.5,767.2 16.5,769.7 24.5,764.2 32.5,758.6 40.5,762.1 48.5,772.7 56.5,773.2 64.5,766.7 72.5,760.9 80.5,763.4 88.5,765.9 96.5,757.1 104.5,760.9 112.5,757.1 120.5,751.6 128.5,752.1 136.5,757.1 144.5,781.0 152.5,789.4 160.5,783.6 168.5,783.6 176.5,791.1 184.5,792.4 192.5,805.5 200.5,805.5 208.5,805.5 216.5,803.0 224.5,800.5 232.5,804.5 240.5,802.0 248.5,782.3 256.5,784.3 264.5,782.3 272.5,783.6 280.5,785.3 288.5,760.9 296.5,750.0 304.5,751.6 312.5,758.4 320.5,759.1 328.5,760.1 336.5,755.8 344.5,749.5 352.5,759.1 360.5,759.1 368.5,753.3 376.5,762.1 384.5,772.2 392.5,777.8 400.5,780.3 408.5,779.3 416.5,772.2 424.5,773.5 432.5,759.1 440.5,764.7 448.5,762.1 456.5,775.3 464.5,764.2 472.5,767.2 480.5,765.2 488.5,747.5 496.5,752.1 504.5,747.5 512.5,745.8 520.5,744.5 528.5,735.7 536.5,731.4 544.5,740.0 552.5,740.0 560.5,735.7 568.5,738.2 576.5,747.0 584.5,749.5 592.5,744.5 600.5,749.5 608.5,746.5 616.5,746.5 624.5,743.2 632.5,746.5 640.5,735.7 648.5,738.2 656.5,739.5 664.5,744.5 672.5,743.2 680.5,742.5 688.5,739.5 696.5,743.2 704.5,751.6 712.5,749.0 720.5,747.5 728.5,741.5 736.5,749.0 744.5,745.0 752.5,746.5 760.5,748.3 768.5,749.5 776.5,744.0 784.5,764.2 792.5,774.2 800.5,772.2 808.5,769.2 816.5,765.2 824.5,765.2 832.5,767.2 840.5,772.2 848.5,767.2 856.5,768.4 864.5,759.1 872.5,768.4 880.5,766.7 888.5,762.1 896.5,769.7 904.5,772.2 912.5,776.0 920.5,772.2 928.5,771.0 936.5,760.9 944.5,760.9 952.5,759.1 960.5,760.1 968.5,755.8 976.5,752.1 984.5,767.2 992.5,767.2 1000.5,769.2 1008.5,765.2 1016.5,765.9 1024.5,765.9 1032.5,737.4 1040.5,747.0 1048.5,747.0 1056.5,742.5 1064.5,741.5 1072.5,740.0 1080.5,735.7 1088.5,733.9 1096.5,732.4 1104.5,729.4 1112.5,731.9 1120.5,732.4 1128.5,744.5 1136.5,743.2 1144.5,738.2 1152.5,738.2 1160.5,744.0 1168.5,742.5 1176.5,741.5 1184.5,754.1 1192.5,734.4 1200.5,731.4 1208.5,731.4 1216.5,731.4 1224.5,753.7 1232.5,768.9 1240.5,764.2 1248.5,766.3 1256.5,756.3 1264.5,757.4 1272.5,760.5 1280.5,735.8 1288.5,733.7 1296.5,735.3" fill="none" stroke="#1e90ff" stroke-width="1"/><path d="M0.5 836V841M64.5 836V841M128.5 836V841M192.5 836V841M256.5 836V841M320.5 836V841M384.5 836V841M448.5 836V841M512.5 836V841M576.5 836V841M640.5 836V841M704.5 836V841M768.5 836V841M832.5 836V841M896.5 836V841M960.5 836V841M1024.5 836V841M1088.5 836V841M1152.5 836V841M1216.5 836V841M1280.5 836V841" stroke="#000" stroke-width="1"/><path d="M1627 125.5H1629M1627 158.5H1629M1627 191.5H1629M1627 224.5H1629M1627 257.5H1629M1627 290.5H1629M1627 323.5H1629M1627 356.5H1629M1627 389.5H1629M1627 422.5H1629M1627 455.5H1629M1627 488.5H1629M1627 92.5H1629M1627 495.5H1629M1627 565.5H1629M1627 682.5H1629M1627 685.5H1629M1627 835.5H1629" stroke="#000" stroke-width="1"/><text x="1631.5" y="129" style="font-family:'Liberation Sans', sans-serif;font-size:10px;fill:#000;letter-spacing:-0.2px">27000.0</text><text x="1631.5" y="162" style="font-family:'Liberation Sans', sans-serif;font-size:10px;fill:#000;letter-spacing:-0.2px">26881.0</text><text x="1631.5" y="195" style="font-family:'Liberation Sans', sans-serif;font-size:10px;fill:#000;letter-spacing:-0.2px">26758.5</text><text x="1631.5" y="228" style="font-family:'Liberation Sans', sans-serif;font-size:10px;fill:#000;letter-spacing:-0.2px">26639.5</text><text x="1631.5" y="261" style="font-family:'Liberation Sans', sans-serif;font-size:10px;fill:#000;letter-spacing:-0.2px">26517.0</text><text x="1631.5" y="294" style="font-family:'Liberation Sans', sans-serif;font-size:10px;fill:#000;letter-spacing:-0.2px">26398.0</text><text x="1631.5" y="327" style="font-family:'Liberation Sans', sans-serif;font-size:10px;fill:#000;letter-spacing:-0.2px">26275.5</text><text x="1631.5" y="360" style="font-family:'Liberation Sans', sans-serif;font-size:10px;fill:#000;letter-spacing:-0.2px">26156.5</text><text x="1631.5" y="393" style="font-family:'Liberation Sans', sans-serif;font-size:10px;fill:#000;letter-spacing:-0.2px">26034.0</text><text x="1631.5" y="426" style="font-family:'Liberation Sans', sans-serif;font-size:10px;fill:#000;letter-spacing:-0.2px">25915.0</text><text x="1631.5" y="459" style="font-family:'Liberation Sans', sans-serif;font-size:10px;fill:#000;letter-spacing:-0.2px">25792.5</text><text x="1631.5" y="492" style="font-family:'Liberation Sans', sans-serif;font-size:10px;fill:#000;letter-spacing:-0.2px">25673.5</text><text x="1631.5" y="96" style="font-family:'Liberation Sans', sans-serif;font-size:10px;fill:#000;letter-spacing:-0.2px">27122.5</text><text x="1630" y="505" style="font-family:'Liberation Sans', sans-serif;font-size:10px;fill:#000;letter-spacing:-0.2px">155.63</text><text x="1630" y="569" style="font-family:'Liberation Sans', sans-serif;font-size:10px;fill:#000;letter-spacing:-0.2px">0.00</text><text x="1630" y="680" style="font-family:'Liberation Sans', sans-serif;font-size:10px;fill:#000;letter-spacing:-0.2px">-259.63</text><text x="1630" y="696" style="font-family:'Liberation Sans', sans-serif;font-size:10px;fill:#000;letter-spacing:-0.2px">100</text><text x="1630" y="720" style="font-family:'Liberation Sans', sans-serif;font-size:10px;fill:#000;letter-spacing:-0.2px">80</text><text x="1630" y="765" style="font-family:'Liberation Sans', sans-serif;font-size:10px;fill:#000;letter-spacing:-0.2px">50</text><text x="1630" y="818" style="font-family:'Liberation Sans', sans-serif;font-size:10px;fill:#000;letter-spacing:-0.2px">15</text><text x="1630" y="834" style="font-family:'Liberation Sans', sans-serif;font-size:10px;fill:#000;letter-spacing:-0.2px">0</text><rect x="1628" y="25" width="38" height="11" fill="#ff0000"/><text x="1631.5" y="34" style="font-family:'Liberation Sans', sans-serif;font-size:10px;letter-spacing:-0.4px;fill:#fff">27343.0</text><rect x="1628" y="35" width="38" height="11" fill="#ff0000"/><text x="1631.5" y="44" style="font-family:'Liberation Sans', sans-serif;font-size:10px;letter-spacing:-0.4px;fill:#fff">27306.5</text><rect x="1628" y="50" width="38" height="11" fill="#000000"/><text x="1631.5" y="59" style="font-family:'Liberation Sans', sans-serif;font-size:10px;letter-spacing:-0.4px;fill:#fff">27257.0</text><rect x="1628" y="61" width="38" height="11" fill="#00ff7f"/><text x="1631.5" y="70" style="font-family:'Liberation Sans', sans-serif;font-size:10px;letter-spacing:-0.4px;fill:#fff">27211.6</text><rect x="1628" y="77" width="38" height="11" fill="#0000ff"/><text x="1631.5" y="86" style="font-family:'Liberation Sans', sans-serif;font-size:10px;letter-spacing:-0.4px;fill:#fff">27156.3</text><rect x="1628" y="93" width="38" height="11" fill="#0000ff"/><text x="1631.5" y="102" style="font-family:'Liberation Sans', sans-serif;font-size:10px;letter-spacing:-0.4px;fill:#fff">27096.6</text><text x="-1" y="850" style="font-family:'Liberation Sans', sans-serif;font-size:10px;fill:#000;letter-spacing:-0.2px">26 Sep 2019</text><text x="63" y="850" style="font-family:'Liberation Sans', sans-serif;font-size:10px;fill:#000;letter-spacing:-0.2px">29 Sep 23:00</text><text x="127" y="850" style="font-family:'Liberation Sans', sans-serif;font-size:10px;fill:#000;letter-spacing:-0.2px">1 Oct 04:00</text><text x="191" y="850" style="font-family:'Liberation Sans', sans-serif;font-size:10px;fill:#000;letter-spacing:-0.2px">2 Oct 12:00</text><text x="255" y="850" style="font-family:'Liberation Sans', sans-serif;font-size:10px;fill:#000;letter-spacing:-0.2px">3 Oct 20:00</text><text x="319" y="850" style="font-family:'Liberation Sans', sans-serif;font-size:10px;fill:#000;letter-spacing:-0.2px">7 Oct 00:00</text><text x="383" y="850" style="font-family:'Liberation Sans', sans-serif;font-size:10px;fill:#000;letter-spacing:-0.2px">8 Oct 08:00</text><text x="447" y="850" style="font-family:'Liberation Sans', sans-serif;font-size:10px;fill:#000;letter-spacing:-0.2px">9 Oct 16:00</text><text x="511" y="850" style="font-family:'Liberation Sans', sans-serif;font-size:10px;fill:#000;letter-spacing:-0.2px">11 Oct 00:00</text><text x="575" y="850" style="font-family:'Liberation Sans', sans-serif;font-size:10px;fill:#000;letter-spacing:-0.2px">14 Oct 04:00</text><text x="639" y="850" style="font-family:'Liberation Sans', sans-serif;font-size:10px;fill:#000;letter-spacing:-0.2px">15 Oct 12:00</text><text x="703" y="850" style="font-family:'Liberation Sans', sans-serif;font-size:10px;fill:#000;letter-spacing:-0.2px">16 Oct 20:00</text><text x="767" y="850" style="font-family:'Liberation Sans', sans-serif;font-size:10px;fill:#000;letter-spacing:-0.2px">18 Oct 04:00</text><text x="831" y="850" style="font-family:'Liberation Sans', sans-serif;font-size:10px;fill:#000;letter-spacing:-0.2px">21 Oct 08:00</text><text x="895" y="850" style="font-family:'Liberation Sans', sans-serif;font-size:10px;fill:#000;letter-spacing:-0.2px">22 Oct 16:00</text><text x="959" y="850" style="font-family:'Liberation Sans', sans-serif;font-size:10px;fill:#000;letter-spacing:-0.2px">24 Oct 00:00</text><text x="1023" y="850" style="font-family:'Liberation Sans', sans-serif;font-size:10px;fill:#000;letter-spacing:-0.2px">25 Oct 08:00</text><text x="1087" y="850" style="font-family:'Liberation Sans', sans-serif;font-size:10px;fill:#000;letter-spacing:-0.2px">28 Oct 12:00</text><text x="1151" y="850" style="font-family:'Liberation Sans', sans-serif;font-size:10px;fill:#000;letter-spacing:-0.2px">29 Oct 20:00</text><text x="1215" y="850" style="font-family:'Liberation Sans', sans-serif;font-size:10px;fill:#000;letter-spacing:-0.2px">31 Oct 04:00</text><text x="1279" y="850" style="font-family:'Liberation Sans', sans-serif;font-size:10px;fill:#000;letter-spacing:-0.2px">1 Nov 12:00</text><path d="M3 38H10L6.5 34Z" fill="#000"/><text x="15" y="39" style="font-family:'Liberation Sans', sans-serif;font-size:10px;fill:#000;letter-spacing:-0.2px;letter-spacing:-0.33px;white-space:pre" xml:space="preserve">DJ30-,H4  27272.0 27275.0 27249.0 27257.0</text><text x="4" y="506" style="font-family:'Liberation Sans', sans-serif;font-size:10px;fill:#000;letter-spacing:-0.2px">MACD(12,26,9) 58.87 35.52</text><text x="4" y="697" style="font-family:'Liberation Sans', sans-serif;font-size:10px;fill:#000;letter-spacing:-0.2px">RSI(14) 67.0236</text><path d="M1409 67.5H1416" stroke="#ff0000"/><rect x="1416.5" y="65.5" width="3" height="3" fill="#fff" stroke="#ff0000"/><rect x="1419.5" y="55.5" width="73" height="24" fill="none" stroke="#ff0000"/><text x="1420" y="77" style="font-family:'Liberation Sans', sans-serif;font-size:23px;letter-spacing:-1.25px;fill:#ff0000">27211.6</text><text x="1381" y="135" style="font-family:'Liberation Serif', serif;font-size:31px;letter-spacing:1.5px;fill:#1a1a40;font-weight:bold" >多空转折点</text><text x="1382" y="134" style="font-family:'Liberation Serif', serif;font-size:31px;letter-spacing:1.5px;fill:#ffff00;font-weight:bold" >多空转折点</text></svg>

<div style="position:absolute;left:3px;top:47px;width:52px;height:25px;background:linear-gradient(#f85c5c,#dc3030);"></div>
<div style="position:absolute;left:3px;top:71px;width:109px;height:40px;background:linear-gradient(#dc3030,#ac0000);"></div>
<div style="position:absolute;left:170px;top:47px;width:52px;height:25px;background:linear-gradient(#f85c5c,#dc3030);"></div>
<div style="position:absolute;left:114px;top:71px;width:108px;height:40px;background:linear-gradient(#dc3030,#ac0000);"></div>
<div style="position:absolute;left:57px;top:47px;width:109px;height:20px;border:1px solid #a8a8a8;background:#fff"></div>
<div style="position:absolute;left:57px;top:47px;width:21px;height:20px;border:1px solid #a8a8a8;background:#e6e6e6"></div>
<div style="position:absolute;left:146px;top:47px;width:20px;height:20px;border:1px solid #a8a8a8;background:#e6e6e6"></div>
<svg style="position:absolute;left:0;top:0" width="230" height="120">
<rect x="3" y="47" width="52" height="1" fill="#c01818"/><rect x="170" y="47" width="52" height="1" fill="#c01818"/>
<rect x="7" y="71" width="44" height="1" fill="#8a0000"/><rect x="7" y="72" width="44" height="1" fill="#f07070"/>
<rect x="174" y="71" width="44" height="1" fill="#8a0000"/><rect x="174" y="72" width="44" height="1" fill="#f07070"/>
<path d="M64 56H71L67.5 60Z" fill="#000"/><path d="M152 59H159L155.5 55Z" fill="#000"/>
<text x="15" y="63" style="font-family:'Liberation Sans', sans-serif;font-size:13px;letter-spacing:-0.9px;fill:#fff">SELL</text>
<text x="183" y="63" style="font-family:'Liberation Sans', sans-serif;font-size:13px;letter-spacing:-0.5px;fill:#fff">BUY</text>
<text x="19" y="102" style="font-family:'Liberation Sans', sans-serif;font-size:13px;font-weight:bold;letter-spacing:-0.3px;fill:#fff">27255</text>
<text x="129" y="102" style="font-family:'Liberation Sans', sans-serif;font-size:13px;font-weight:bold;letter-spacing:-0.3px;fill:#fff">27264</text>
<text x="56" y="102" style="font-family:'Liberation Sans', sans-serif;font-size:35px;fill:#fff">.5</text>
<text x="167" y="102" style="font-family:'Liberation Sans', sans-serif;font-size:35px;fill:#fff">.5</text>
<text x="119" y="62" style="font-family:'Liberation Sans', sans-serif;font-size:13px;letter-spacing:-0.4px;fill:#000">1.00</text>
</svg>

</body></html>
